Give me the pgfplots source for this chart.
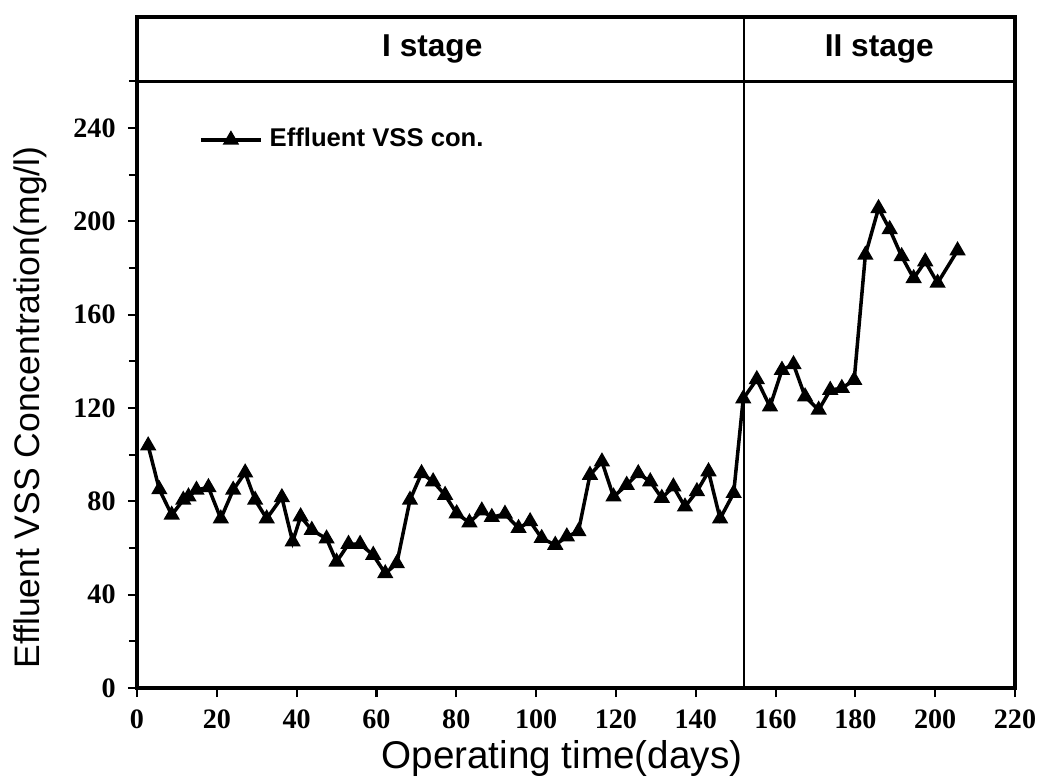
\documentclass[border=0pt]{standalone}
\usepackage{fontspec}
\setmainfont{Liberation Sans}
\newfontfamily\tickfont{Liberation Serif}
\usepackage{pgfplots}
\pgfplotsset{compat=1.18}
\begin{document}
\begin{tikzpicture}
\begin{axis}[
  scale only axis, width=87.8mm, height=67.1mm,
  xmin=0, xmax=220, ymin=0, ymax=287.6,
  xtick={0,20,...,220}, ytick={0,40,...,240}, minor ytick={20,60,...,260},
  tick align=outside, xtick pos=left, ytick pos=left,
  major tick length=0.9mm, minor tick length=0.8mm,
  axis line style={line width=0.9pt},
  every tick/.style={line width=0.6pt, black},
  /pgf/number format/assume math mode=true,
  ticklabel style={font=\tickfont\bfseries\fontsize{8}{9}\selectfont},
  xlabel={Operating time(days)},
  ylabel={Effluent VSS Concentration(mg/l)},
  every axis x label/.style={at={(rel axis cs:0.484,0)}, yshift=-7.0mm, anchor=center,
    font=\fontsize{11}{13}\selectfont},
  every axis y label/.style={at={(rel axis cs:0,0.418)}, xshift=-10.7mm, rotate=90, anchor=center,
    font=\fontsize{10.1}{12}\selectfont},
  legend style={at={(rel axis cs:0.07,0.817)}, anchor=west, draw=none, fill=none,
    inner sep=0pt, font=\bfseries\fontsize{7.3}{8}\selectfont},
  legend cell align=left,
]
\addplot[black, line width=1pt, mark=triangle*, mark size=1.7pt] coordinates {
(2.8,103.9) (5.6,85.1) (8.7,74.2) (11.6,80.6) (12.9,82) (14.9,84.9) (17.9,86)
(21,72.6) (24.1,84.9) (27.1,92.3) (29.6,80.6) (32.5,72.6) (36.3,81.7) (39,62.7)
(41,73.5) (43.8,67.7) (47.5,64) (50,54.1) (53,61.7) (55.9,61.7) (59.2,57)
(62.2,49.1) (65.1,53.4) (68.4,80.6) (71.3,92) (74.2,88.5) (77.2,82.7) (80.1,74.8)
(83.3,70.9) (86.4,76) (88.9,73.2) (92.2,74.6) (95.6,68.5) (98.5,71.4) (101.4,64.2)
(104.8,61.3) (107.7,64.9) (110.6,67.1) (113.5,91.3) (116.5,97) (119.4,82) (122.7,87)
(125.6,92) (128.6,88.5) (131.5,81.4) (134.4,86.3) (137.3,77.7) (140.3,84.3) (143.2,92.8)
(146.1,72.6) (149.5,83.5) (151.9,124) (155.3,132.3) (158.6,120.6) (161.6,136.3) (164.5,138.7)
(167.4,124.9) (170.8,119.2) (173.7,127.7) (176.6,128.5) (179.7,132) (182.5,185.6) (185.8,205.6)
(188.6,196.6) (191.6,185) (194.6,175.6) (197.5,182.8) (200.6,173.6) (205.6,187.5)
};
\addlegendentry{Effluent VSS con.}
\draw[line width=0.9pt] (axis cs:0,260) -- (axis cs:220,260);
\draw[line width=0.5pt] (axis cs:152,0) -- (axis cs:152,287.6);
\node[font=\bfseries\fontsize{9}{10}\selectfont] at (axis cs:74,274) {I stage};
\node[font=\bfseries\fontsize{9}{10}\selectfont] at (axis cs:186,274) {II stage};
\coordinate (bl) at (rel axis cs:0,0);
\coordinate (tr) at (rel axis cs:1,1);
\end{axis}
\pgfresetboundingbox
\path[use as bounding box] ([shift={(-13.7mm,-9mm)}]bl) rectangle ([shift={(2.3mm,1.7mm)}]tr);
\end{tikzpicture}
\end{document}
